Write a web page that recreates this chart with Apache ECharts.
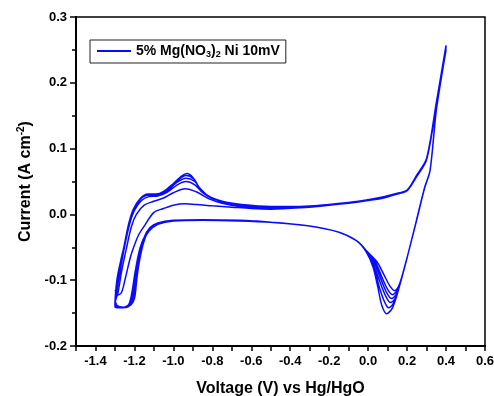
<!DOCTYPE html>
<html>
<head>
<meta charset="utf-8">
<script src="https://cdn.jsdelivr.net/npm/echarts@6/dist/echarts.min.js"></script>
<style>html,body{margin:0;padding:0;background:#fff}#c{width:494px;height:396px}</style>
</head>
<body>
<div id="c"></div>
<script>
// Tick labels
var xTickLabels = [-1.4, -1.2, -1.0, -0.8, -0.6, -0.4, -0.2, 0.0, 0.2, 0.4, 0.6];
var yTickLabels = [-0.2, -0.1, 0.0, 0.1, 0.2, 0.3];
var seriesName = '5% Mg(NO3)2 Ni 10mV';

// Cycle 1: anodic sweep then cathodic sweep [V, A cm^-2]
var cycle1Anodic = [[-1.30,-0.115],[-1.28,-0.122],[-1.265,-0.118],[-1.245,-0.095],[-1.225,-0.070],[-1.21,-0.055],[-1.18,-0.032],[-1.148,-0.017],[-1.10,0.003],[-1.05,0.009],[-1.00,0.014],[-0.94,0.016],[-0.88,0.015],[-0.80,0.013],[-0.70,0.011],[-0.60,0.009],[-0.50,0.008],[-0.35,0.010],[-0.20,0.014],[-0.05,0.019],[0.08,0.025],[0.15,0.031],[0.20,0.036],[0.25,0.058],[0.30,0.083],[0.35,0.165],[0.40,0.250]];
var cycle1Cathodic = [[0.40,0.250],[0.35,0.158],[0.318,0.067],[0.29,0.040],[0.248,-0.010],[0.205,-0.060],[0.16,-0.110],[0.125,-0.142],[0.095,-0.151],[0.07,-0.138],[0.05,-0.111],[0.025,-0.080],[-0.01,-0.057],[-0.06,-0.040],[-0.15,-0.027],[-0.32,-0.017],[-0.50,-0.012],[-0.66,-0.009],[-0.85,-0.008],[-1.00,-0.009],[-1.08,-0.013],[-1.12,-0.020],[-1.15,-0.035],[-1.175,-0.065],[-1.19,-0.105],[-1.20,-0.128],[-1.22,-0.138],[-1.25,-0.141],[-1.28,-0.140],[-1.30,-0.135]];
// Cycle 2
var cycle2Anodic = [[-1.30,-0.135],[-1.285,-0.120],[-1.265,-0.085],[-1.24,-0.050],[-1.215,-0.018],[-1.19,0.000],[-1.15,0.014],[-1.10,0.020],[-1.05,0.025],[-1.00,0.033],[-0.94,0.039],[-0.88,0.034],[-0.82,0.024],[-0.75,0.017],[-0.65,0.012],[-0.50,0.009],[-0.35,0.011],[-0.20,0.015],[-0.05,0.020],[0.08,0.026],[0.15,0.031],[0.20,0.036],[0.25,0.058],[0.30,0.083],[0.35,0.167],[0.40,0.254]];
var cycle2Cathodic = [[0.40,0.254],[0.35,0.158],[0.318,0.067],[0.29,0.041],[0.248,-0.009],[0.205,-0.060],[0.16,-0.108],[0.13,-0.135],[0.105,-0.142],[0.08,-0.130],[0.055,-0.108],[0.03,-0.080],[-0.01,-0.056],[-0.06,-0.040],[-0.15,-0.027],[-0.32,-0.017],[-0.50,-0.012],[-0.66,-0.009],[-0.85,-0.009],[-1.00,-0.010],[-1.08,-0.014],[-1.12,-0.022],[-1.15,-0.040],[-1.175,-0.072],[-1.195,-0.112],[-1.21,-0.132],[-1.23,-0.140],[-1.26,-0.142],[-1.29,-0.141],[-1.30,-0.137]];
// Cycle 3
var cycle3Anodic = [[-1.30,-0.137],[-1.29,-0.115],[-1.27,-0.080],[-1.25,-0.048],[-1.225,-0.015],[-1.20,0.006],[-1.165,0.021],[-1.125,0.027],[-1.08,0.028],[-1.03,0.034],[-0.98,0.045],[-0.935,0.050],[-0.89,0.045],[-0.85,0.033],[-0.80,0.024],[-0.72,0.017],[-0.62,0.013],[-0.50,0.010],[-0.35,0.011],[-0.20,0.015],[-0.05,0.020],[0.08,0.026],[0.15,0.032],[0.20,0.037],[0.25,0.059],[0.30,0.084],[0.35,0.168],[0.40,0.255]];
var cycle3Cathodic = [[0.40,0.255],[0.35,0.158],[0.318,0.067],[0.29,0.041],[0.248,-0.009],[0.205,-0.060],[0.165,-0.104],[0.14,-0.127],[0.115,-0.134],[0.09,-0.124],[0.06,-0.102],[0.03,-0.078],[-0.01,-0.056],[-0.06,-0.040],[-0.15,-0.027],[-0.32,-0.017],[-0.50,-0.012],[-0.66,-0.009],[-0.85,-0.009],[-1.00,-0.010],[-1.08,-0.014],[-1.12,-0.023],[-1.155,-0.042],[-1.18,-0.075],[-1.20,-0.115],[-1.215,-0.134],[-1.24,-0.141],[-1.27,-0.142],[-1.30,-0.138]];
// Cycle 4
var cycle4Anodic = [[-1.30,-0.138],[-1.29,-0.115],[-1.272,-0.080],[-1.252,-0.048],[-1.228,-0.015],[-1.205,0.007],[-1.17,0.023],[-1.13,0.029],[-1.085,0.029],[-1.035,0.035],[-0.985,0.048],[-0.935,0.055],[-0.89,0.050],[-0.86,0.038],[-0.81,0.026],[-0.73,0.018],[-0.62,0.014],[-0.50,0.011],[-0.35,0.012],[-0.20,0.015],[-0.05,0.020],[0.08,0.027],[0.15,0.032],[0.20,0.037],[0.25,0.059],[0.30,0.084],[0.35,0.169],[0.40,0.256]];
var cycle4Cathodic = [[0.40,0.256],[0.35,0.158],[0.318,0.067],[0.29,0.041],[0.248,-0.009],[0.205,-0.060],[0.17,-0.098],[0.145,-0.121],[0.12,-0.128],[0.095,-0.119],[0.065,-0.098],[0.035,-0.076],[-0.01,-0.055],[-0.06,-0.040],[-0.15,-0.027],[-0.32,-0.017],[-0.50,-0.012],[-0.66,-0.010],[-0.85,-0.009],[-1.00,-0.010],[-1.08,-0.015],[-1.125,-0.025],[-1.16,-0.045],[-1.185,-0.078],[-1.205,-0.118],[-1.22,-0.135],[-1.245,-0.141],[-1.275,-0.142],[-1.30,-0.139]];
// Cycle 5
var cycle5Anodic = [[-1.30,-0.139],[-1.292,-0.115],[-1.274,-0.080],[-1.253,-0.048],[-1.23,-0.015],[-1.207,0.007],[-1.17,0.024],[-1.13,0.030],[-1.085,0.030],[-1.032,0.036],[-0.985,0.050],[-0.935,0.059],[-0.895,0.054],[-0.865,0.040],[-0.815,0.027],[-0.74,0.019],[-0.63,0.014],[-0.50,0.012],[-0.35,0.012],[-0.20,0.015],[-0.05,0.020],[0.08,0.027],[0.15,0.032],[0.20,0.037],[0.25,0.060],[0.30,0.085],[0.35,0.170],[0.40,0.257]];
var cycle5Cathodic = [[0.40,0.257],[0.35,0.158],[0.318,0.067],[0.29,0.041],[0.248,-0.009],[0.205,-0.060],[0.175,-0.093],[0.15,-0.115],[0.125,-0.122],[0.10,-0.114],[0.07,-0.095],[0.04,-0.074],[-0.01,-0.055],[-0.06,-0.040],[-0.15,-0.027],[-0.32,-0.017],[-0.50,-0.012],[-0.66,-0.010],[-0.85,-0.009],[-1.00,-0.010],[-1.08,-0.015],[-1.13,-0.027],[-1.165,-0.048],[-1.19,-0.082],[-1.21,-0.120],[-1.225,-0.136],[-1.25,-0.141],[-1.28,-0.142],[-1.30,-0.140]];
// Cycle 6
var cycle6Anodic = [[-1.30,-0.140],[-1.29,-0.100],[-1.27,-0.070],[-1.25,-0.045],[-1.225,-0.015],[-1.205,0.005],[-1.17,0.024],[-1.13,0.031],[-1.09,0.031],[-1.05,0.035],[-1.00,0.047],[-0.96,0.058],[-0.93,0.062],[-0.90,0.056],[-0.87,0.042],[-0.82,0.028],[-0.75,0.020],[-0.65,0.015],[-0.50,0.012],[-0.35,0.012],[-0.20,0.015],[-0.05,0.020],[0.08,0.027],[0.15,0.032],[0.20,0.037],[0.25,0.060],[0.30,0.085],[0.35,0.170],[0.40,0.257]];
var cycle6Cathodic = [[0.40,0.257],[0.35,0.158],[0.318,0.067],[0.29,0.041],[0.248,-0.009],[0.205,-0.060],[0.18,-0.088],[0.155,-0.110],[0.135,-0.116],[0.11,-0.108],[0.08,-0.091],[0.045,-0.072],[-0.01,-0.055],[-0.06,-0.040],[-0.15,-0.027],[-0.32,-0.017],[-0.50,-0.012],[-0.66,-0.010],[-0.85,-0.009],[-1.00,-0.010],[-1.08,-0.015],[-1.135,-0.028],[-1.17,-0.050],[-1.195,-0.085],[-1.215,-0.122],[-1.23,-0.137],[-1.255,-0.141],[-1.285,-0.140],[-1.30,-0.130]];

var cvData = [].concat(cycle1Anodic, cycle1Cathodic, cycle2Anodic, cycle2Cathodic, cycle3Anodic, cycle3Cathodic,
  cycle4Anodic, cycle4Cathodic, cycle5Anodic, cycle5Cathodic, cycle6Anodic, cycle6Cathodic);

function near(v, list) {
  for (var i = 0; i < list.length; i++) if (Math.abs(v - list[i]) < 1e-6) return true;
  return false;
}

var FONT = '"Liberation Sans", Arial, sans-serif';
var BLUE = '#0a0aff';
var chart = echarts.init(document.getElementById('c'), null, {renderer: 'canvas'});
chart.setOption({
  animation: false,
  backgroundColor: '#fff',
  grid: {left: 76, right: 9, top: 17, bottom: 50, containLabel: false, outerBoundsMode: 'none',
    show: true, borderColor: '#000', borderWidth: 1.5, backgroundColor: 'transparent'},
  legend: {
    data: [{name: seriesName, icon: 'rect'}],
    left: 90, top: 40,
    orient: 'horizontal',
    borderColor: '#222', borderWidth: 1, borderRadius: 0,
    padding: [4, 6, 4, 7],
    itemWidth: 34, itemHeight: 2, itemGap: 5,
    itemStyle: {color: BLUE, borderWidth: 0},
    formatter: function () { return '5% Mg(NO{sub|3}){sub|2} Ni 10mV'; },
    textStyle: {
      fontFamily: FONT, fontWeight: 'bold', fontSize: 14, color: '#000',
      rich: {sub: {fontFamily: FONT, fontWeight: 'bold', fontSize: 9, color: '#000', padding: [7, 0, 0, 0]}}
    }
  },
  xAxis: {
    type: 'value', min: -1.5, max: 0.6, interval: 0.1,
    name: 'Voltage (V) vs Hg/HgO', nameLocation: 'middle', nameGap: 35,
    nameTextStyle: {fontFamily: FONT, fontWeight: 'bold', fontSize: 16, color: '#000'},
    axisLine: {onZero: false, lineStyle: {color: '#000', width: 2}},
    axisTick: {show: true, inside: false, length: 5, lineStyle: {color: '#000', width: 1.5}},
    axisLabel: {margin: 9, fontFamily: FONT, fontWeight: 'bold', fontSize: 13, color: '#000',
      formatter: function (v) { return near(v, xTickLabels) ? v.toFixed(1) : ''; }},
    splitLine: {show: false}
  },
  yAxis: {
    type: 'value', min: -0.2, max: 0.3, interval: 0.1,
    name: 'Current (A cm{sup|-2})', nameLocation: 'middle', nameGap: 40,
    nameTextStyle: {fontFamily: FONT, fontWeight: 'bold', fontSize: 16, color: '#000',
      rich: {sup: {fontFamily: FONT, fontWeight: 'bold', fontSize: 10, color: '#000', padding: [0, 0, 9, 0]}}},
    axisLine: {onZero: false, lineStyle: {color: '#000', width: 2}},
    axisTick: {show: true, inside: false, length: 6, lineStyle: {color: '#000', width: 1.5}},
    minorTick: {show: true, splitNumber: 2, length: 4, lineStyle: {color: '#000', width: 1.5}},
    axisLabel: {margin: 9, fontFamily: FONT, fontWeight: 'bold', fontSize: 13, color: '#000',
      formatter: function (v) { return near(v, yTickLabels) ? v.toFixed(1) : ''; }},
    splitLine: {show: false}
  },
  series: [{
    name: seriesName,
    type: 'line',
    data: cvData,
    showSymbol: false,
    symbol: 'none',
    smooth: 0.3,
    lineStyle: {color: BLUE, width: 1.5},
    itemStyle: {color: BLUE},
    clip: true
  }]
});
</script>
</body>
</html>
